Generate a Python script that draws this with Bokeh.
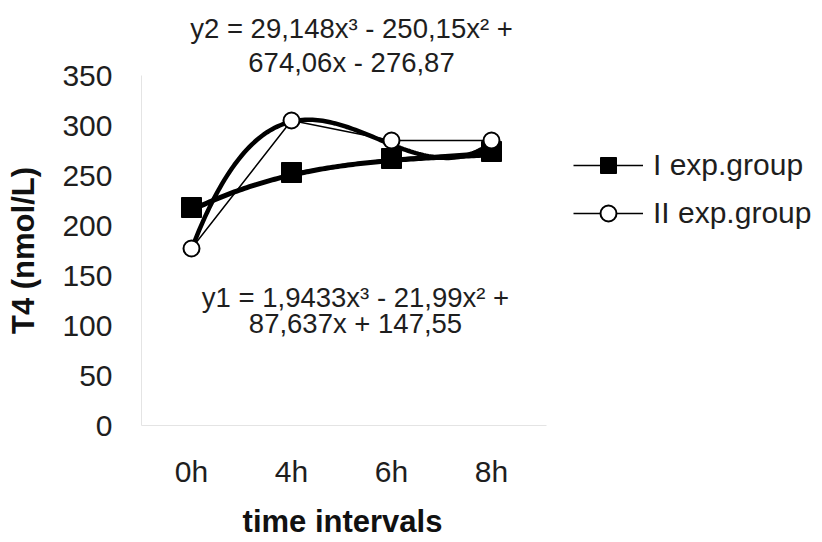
import numpy as np
from bokeh.plotting import figure
from bokeh.models import Range1d, Label, Legend, LegendItem, FixedTicker
from bokeh.embed import file_html
from bokeh.resources import INLINE

# ---- data ----
categories = ["0h", "4h", "6h", "8h"]
x_pos = [1, 2, 3, 4]
group1 = [218, 253, 267, 274]
group2 = [177, 305, 285, 285]
# cubic trend coefficients (a x^3 + b x^2 + c x + d), as printed on the chart
trend1 = [1.9433, -21.99, 87.637, 147.55]
trend2 = [29.148, -250.15, 674.06, -276.87]
eq1_lines = ["y1 = 1,9433x\u00b3 - 21,99x\u00b2 +", "87,637x + 147,55"]
eq2_lines = ["y2 = 29,148x\u00b3 - 250,15x\u00b2 +", "674,06x - 276,87"]
y_ticks = [0, 50, 100, 150, 200, 250, 300, 350]
series_names = ["I exp.group", "II exp.group"]
x_title = "time intervals"
y_title = "T4 (nmol/L)"

FONT = "Liberation Sans"
TXT = "#1e1e1e"

# the frame fills the whole canvas; the axes are pinned at x=0.5 / y=0
p = figure(width=822, height=542, output_backend="svg", toolbar_location=None,
           x_range=Range1d(-0.91, 7.31), y_range=Range1d(-117, 425),
           min_border_left=0, min_border_right=0, min_border_top=0,
           min_border_bottom=0)
p.outline_line_color = None
p.grid.grid_line_color = None
p.background_fill_color = "white"
p.border_fill_color = "white"

# axes
p.xaxis.ticker = FixedTicker(ticks=x_pos)
p.xaxis.major_label_overrides = {x: c for x, c in zip(x_pos, categories)}
p.yaxis.ticker = FixedTicker(ticks=y_ticks)
p.xaxis.bounds = (0.5, 4.55)
p.yaxis.bounds = (0, 350)
p.xaxis.fixed_location = 0
p.yaxis.fixed_location = 0.5
for ax in (p.xaxis, p.yaxis):
    ax.axis_line_color = "#e4e4e4"
    ax.major_tick_line_color = None
    ax.minor_tick_line_color = None
    ax.major_tick_out = 0
    ax.major_tick_in = 0
    ax.major_label_text_font = FONT
    ax.major_label_text_font_size = "30px"
    ax.major_label_text_color = TXT
p.xaxis.major_label_standoff = 29
p.yaxis.major_label_standoff = 29

# axis titles
p.add_layout(Label(x=2.51, y=-96, text=x_title, text_align="center",
                   text_baseline="middle", text_font=FONT,
                   text_font_style="bold", text_font_size="31px",
                   text_color="#111111"))
p.add_layout(Label(x=-0.68, y=175, text=y_title, angle=np.pi / 2,
                   text_align="center", text_baseline="middle",
                   text_font=FONT, text_font_style="bold",
                   text_font_size="31px", text_color="#111111"))

# trend curves evaluated from the printed coefficients
xs = np.linspace(1, 4, 120)
t1 = np.polyval(trend1, xs)
t2 = np.polyval(trend2, xs)
p.line(xs, t2, line_color="black", line_width=4.5)
p.line(xs, t1, line_color="black", line_width=5)

# data lines
l1 = p.line(x_pos, group1, line_color="black", line_width=1.5)
l2 = p.line(x_pos, group2, line_color="black", line_width=1.5)
s1 = p.scatter(x_pos, group1, marker="square", size=20, fill_color="black",
               line_color="black")
s2 = p.scatter(x_pos, group2, marker="circle", size=16, fill_color="white",
               line_color="black", line_width=2)

# equations
for yv, t in zip([397, 363], eq2_lines):
    p.add_layout(Label(x=2.6, y=yv, text=t, text_align="center",
                       text_baseline="middle", text_font=FONT,
                       text_font_size="27.5px", text_color=TXT))
for yv, t in zip([128, 102], eq1_lines):
    p.add_layout(Label(x=2.64, y=yv, text=t, text_align="center",
                       text_baseline="middle", text_font=FONT,
                       text_font_size="27.5px", text_color=TXT))

legend = Legend(items=[LegendItem(label=series_names[0], renderers=[l1, s1]),
                       LegendItem(label=series_names[1], renderers=[l2, s2])],
                location=(573, 309), glyph_width=70, glyph_height=40,
                label_standoff=10, spacing=8, padding=0, margin=0,
                border_line_color=None, background_fill_alpha=0,
                label_text_font=FONT, label_text_font_size="30px",
                label_text_color=TXT)
p.add_layout(legend, "center")

open("out.html", "w").write(file_html(p, INLINE))
